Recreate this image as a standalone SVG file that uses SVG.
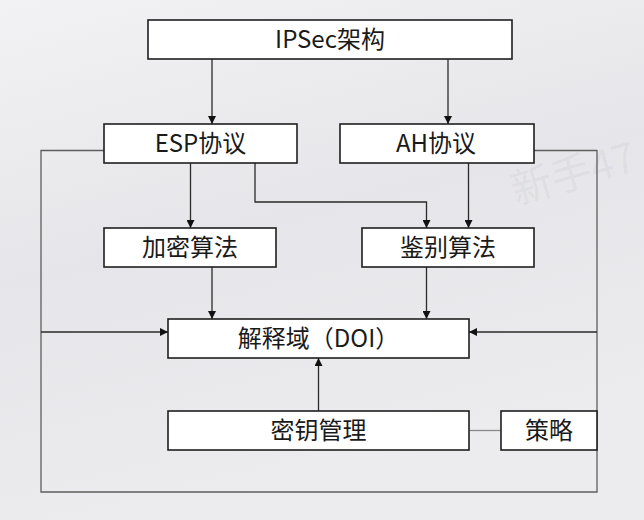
<svg xmlns="http://www.w3.org/2000/svg" width="644" height="520" viewBox="0 0 644 520">
  <style>
    .box { fill: #ffffff; stroke: #1e1e1e; stroke-width: 1.6; }
    .lbl { font-family: "Noto Sans CJK SC", "Noto Sans", sans-serif; font-size: 24px; fill: #1a1a1a; text-anchor: middle; }
    .arr { fill: none; stroke: #2a2a2a; stroke-width: 1.3; marker-end: url(#ah); }
    .loop { fill: none; stroke: #5e5e5e; stroke-width: 1.3; }
    .plain { fill: none; stroke: #8a8a8a; stroke-width: 1.3; }
    .wm { font-family: "Noto Sans CJK SC", "Noto Sans", sans-serif; font-size: 41px; fill: #000000; fill-opacity: 0.055; }
  </style>
  <defs>
    <linearGradient id="bg" x1="0" y1="0" x2="0.3" y2="1">
      <stop offset="0" stop-color="#f2f2f4"/>
      <stop offset="0.5" stop-color="#e6e6ea"/>
      <stop offset="1" stop-color="#ececef"/>
    </linearGradient>
    <marker id="ah" markerUnits="userSpaceOnUse" markerWidth="8" markerHeight="8" refX="8" refY="4" orient="auto">
      <path d="M0,0 L8,4 L0,8 z" fill="#111111"/>
    </marker>
  </defs>
  <rect x="0" y="0" width="644" height="520" fill="url(#bg)"/>
  <text class="wm" x="516" y="205" transform="rotate(-16 516 205)">新手47</text>

  <g id="connectors">
    <path class="loop" d="M104 150.5 H41 V492 H597 V150.5 H534"/>
    <path class="arr" d="M212 59 V124"/>
    <path class="arr" d="M448 59 V124"/>
    <path class="arr" d="M190.5 163 V228"/>
    <path class="arr" d="M255 163 V202 H426.5 V228"/>
    <path class="arr" d="M468.5 163 V228"/>
    <path class="arr" d="M212 267 V319"/>
    <path class="arr" d="M426.5 267 V319"/>
    <path class="arr" d="M318.5 411 V358"/>
    <path class="arr" d="M41 332 H168"/>
    <path class="arr" d="M597 332 H469"/>
    <path class="plain" d="M469 430.5 H501"/>
  </g>

  <g id="ipsec">
    <rect class="box" x="148" y="20" width="364" height="39"/>
    <text class="lbl" x="330" y="48">IPSec架构</text>
  </g>
  <g id="esp">
    <rect class="box" x="104" y="124" width="193" height="39"/>
    <text class="lbl" x="200.5" y="152">ESP协议</text>
  </g>
  <g id="ah-proto">
    <rect class="box" x="340" y="124" width="194" height="39"/>
    <text class="lbl" x="436" y="152">AH协议</text>
  </g>
  <g id="encrypt">
    <rect class="box" x="104" y="228" width="172" height="39"/>
    <text class="lbl" x="190" y="256">加密算法</text>
  </g>
  <g id="auth">
    <rect class="box" x="362" y="228" width="172" height="39"/>
    <text class="lbl" x="448" y="256">鉴别算法</text>
  </g>
  <g id="doi">
    <rect class="box" x="168" y="319" width="301" height="39"/>
    <text class="lbl" x="318.5" y="347">解释域（DOI）</text>
  </g>
  <g id="keymgmt">
    <rect class="box" x="168" y="411" width="301" height="39"/>
    <text class="lbl" x="318.5" y="439">密钥管理</text>
  </g>
  <g id="policy">
    <rect class="box" x="501" y="411" width="96" height="39"/>
    <text class="lbl" x="549" y="439">策略</text>
  </g>
</svg>
